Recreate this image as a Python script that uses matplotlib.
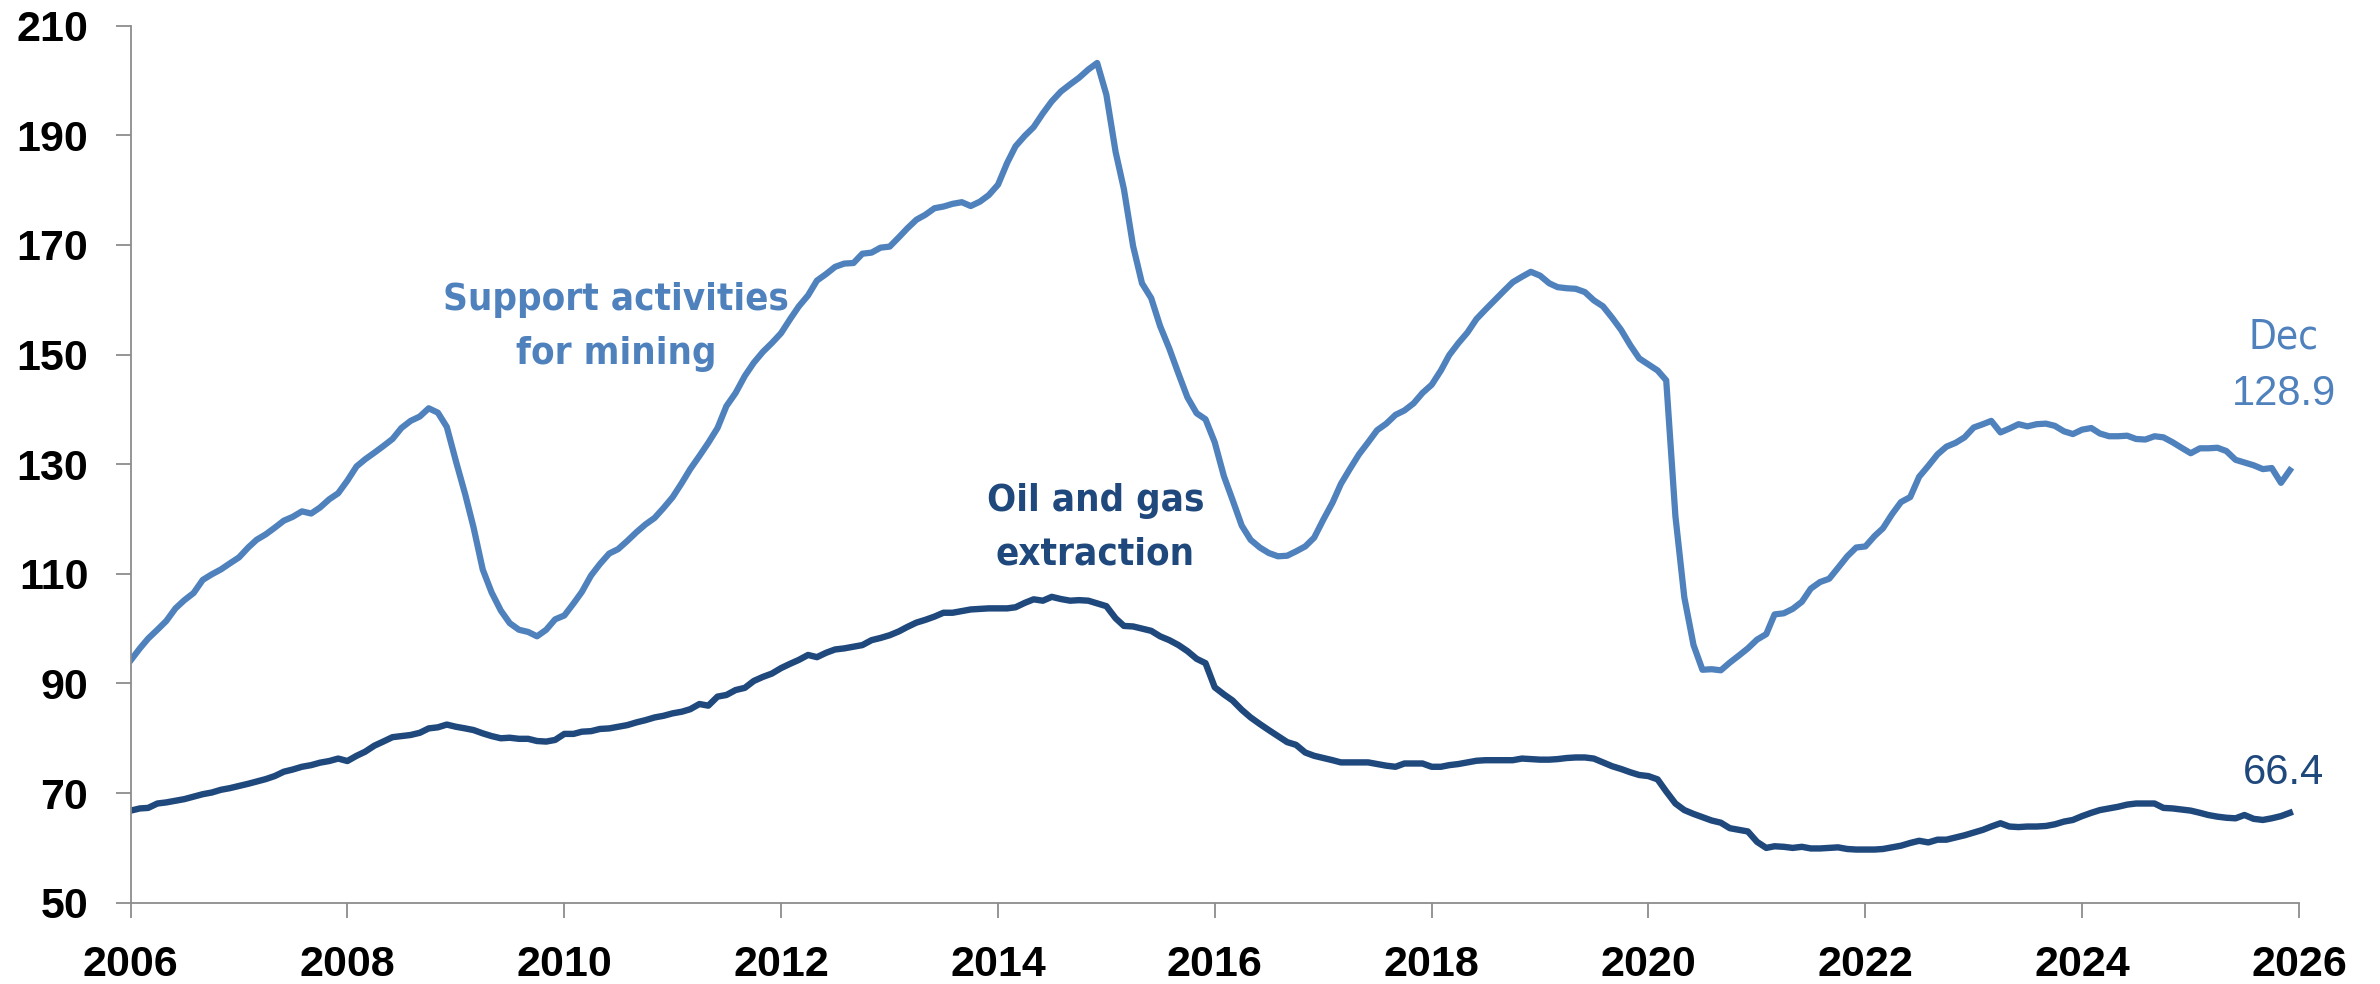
import os
import numpy as np
import pandas as pd
import matplotlib
matplotlib.use('Agg')
import matplotlib.pyplot as plt
import matplotlib.dates as mdates
from matplotlib import font_manager

# Monthly index values, Jan 2006 - Dec 2025 (one row per year)
support_mining = [
    94.2, 96.4, 98.2, 99.8, 101.4, 103.7, 105.2, 106.5, 108.9, 109.9, 110.8, 111.9,
    113.0, 114.8, 116.2, 117.2, 118.4, 119.7, 120.4, 121.4, 121.0, 122.1, 123.6, 124.7,
    127.0, 129.6, 130.9, 132.1, 133.3, 134.6, 136.6, 137.9, 138.7, 140.2, 139.4, 136.8,
    130.5, 124.5, 118.5, 110.8, 106.6, 103.3, 101.0, 99.8, 99.4, 98.6, 99.8, 101.7,
    102.4, 104.6, 106.7, 109.7, 111.8, 113.7, 114.5, 116.0, 117.6, 119.0, 120.2, 122.0,
    124.0, 126.6, 129.1, 131.5, 133.9, 136.6, 140.6, 143.0, 146.1, 148.5, 150.5, 152.1,
    153.9, 156.5, 158.8, 160.8, 163.5, 164.7, 166.0, 166.6, 166.7, 168.4, 168.6, 169.5,
    169.7, 171.4, 173.0, 174.6, 175.5, 176.7, 177.0, 177.5, 177.8, 177.1, 177.9, 179.1,
    181.0, 185.0, 188.0, 189.9, 191.5, 194.0, 196.2, 198.0, 199.3, 200.5, 202.0, 203.2,
    197.4, 187.0, 180.2, 169.8, 163.0, 160.3, 155.2, 151.1, 146.5, 142.2, 139.3, 138.2,
    134.0, 127.8, 123.5, 118.8, 116.2, 114.8, 113.8, 113.2, 113.3, 114.1, 115.0, 116.6,
    119.9, 123.0, 126.4, 129.2, 131.8, 134.0, 136.2, 137.4, 139.0, 139.8, 141.1, 143.0,
    144.5, 147.1, 149.9, 152.1, 154.0, 156.5, 158.2, 159.9, 161.6, 163.2, 164.2, 165.1,
    164.4, 163.0, 162.3, 162.1, 162.0, 161.4, 159.9, 158.8, 156.7, 154.5, 151.7, 149.3,
    148.2, 147.1, 145.3, 120.5, 105.7, 97.0, 92.5, 92.6, 92.4, 93.8, 95.1, 96.4,
    98.0, 99.0, 102.6, 102.8, 103.6, 104.9, 107.3, 108.5, 109.1, 111.1, 113.2, 114.8,
    115.0, 116.9, 118.3, 120.9, 123.1, 124.0, 127.7, 129.7, 131.8, 133.2, 133.9, 134.9,
    136.7, 137.3, 137.9, 135.8, 136.5, 137.3, 136.9, 137.3, 137.4, 137.0, 136.0, 135.5,
    136.3, 136.6, 135.6, 135.1, 135.1, 135.2, 134.6, 134.5, 135.1, 134.9, 134.0, 133.0,
    132.0, 132.9, 132.9, 133.0, 132.4, 130.8, 130.3, 129.8, 129.1, 129.3, 126.6, 128.9,
]

oil_gas = [
    66.8, 67.2, 67.3, 68.1, 68.3, 68.6, 68.9, 69.35, 69.8, 70.1, 70.6, 70.9,
    71.3, 71.7, 72.1, 72.55, 73.1, 73.9, 74.3, 74.8, 75.1, 75.55, 75.85, 76.3,
    75.85, 76.8, 77.55, 78.65, 79.4, 80.2, 80.4, 80.6, 81.0, 81.8, 82.0, 82.5,
    82.1, 81.8, 81.5, 80.9, 80.4, 80.0, 80.1, 79.9, 79.9, 79.5, 79.4, 79.7,
    80.8, 80.8, 81.2, 81.3, 81.7, 81.8, 82.1, 82.4, 82.9, 83.3, 83.8, 84.1,
    84.55, 84.85, 85.3, 86.25, 85.95, 87.6, 87.9, 88.8, 89.2, 90.45, 91.2, 91.8,
    92.8, 93.6, 94.3, 95.2, 94.8, 95.6, 96.2, 96.4, 96.7, 97.0, 97.9, 98.3,
    98.8, 99.5, 100.3, 101.1, 101.6, 102.2, 102.9, 102.9, 103.2, 103.5, 103.6, 103.7,
    103.7, 103.7, 103.9, 104.7, 105.35, 105.1, 105.8, 105.4, 105.1, 105.2, 105.1, 104.6,
    104.1, 101.9, 100.5, 100.4, 100.0, 99.6, 98.6, 97.9, 97.0, 95.9, 94.5, 93.7,
    89.3, 88.0, 86.9, 85.2, 83.8, 82.6, 81.5, 80.4, 79.3, 78.8, 77.4, 76.8,
    76.4, 76.0, 75.6, 75.6, 75.6, 75.6, 75.3, 75.0, 74.8, 75.4, 75.4, 75.4,
    74.8, 74.8, 75.1, 75.3, 75.6, 75.9, 76.0, 76.0, 76.0, 76.0, 76.3, 76.2,
    76.1, 76.1, 76.2, 76.4, 76.5, 76.5, 76.3, 75.6, 74.9, 74.4, 73.8, 73.3,
    73.1, 72.5, 70.3, 68.1, 66.9, 66.2, 65.6, 65.0, 64.6, 63.6, 63.3, 63.0,
    61.1, 60.0, 60.3, 60.2, 60.0, 60.2, 59.9, 59.9, 60.0, 60.1, 59.8, 59.7,
    59.7, 59.7, 59.8, 60.1, 60.4, 60.9, 61.3, 61.0, 61.5, 61.5, 61.9, 62.3,
    62.8, 63.3, 63.9, 64.5, 63.9, 63.8, 63.9, 63.9, 64.0, 64.3, 64.8, 65.1,
    65.8, 66.4, 66.9, 67.2, 67.5, 67.9, 68.1, 68.1, 68.1, 67.3, 67.2, 67.0,
    66.8, 66.4, 66.0, 65.7, 65.5, 65.4, 66.0, 65.3, 65.1, 65.4, 65.8, 66.4,
]

months = pd.date_range('2006-01-01', periods=len(oil_gas), freq='MS')
y_ticks = [50, 70, 90, 110, 130, 150, 170, 190, 210]

light_blue = '#4F81BD'
dark_blue = '#1F487C'
axis_grey = '#8C8C8C'
wide = ['Liberation Sans', 'DejaVu Sans']


def condensed_font(bold: bool, size: float) -> font_manager.FontProperties:
    """
    Looks for an installed narrow/condensed font file, falls back to Roboto

    :param bold: Whether the bold cut is wanted
    :param size: Font size in points
    """
    wanted = (['LiberationSansNarrow-Bold', 'DejaVuSansCondensed-Bold'] if bold
              else ['LiberationSansNarrow-Regular', 'DejaVuSansCondensed.'])
    files = [f.fname for f in font_manager.fontManager.ttflist]
    for key in wanted:
        for fname in files:
            if key in os.path.basename(fname):
                return font_manager.FontProperties(fname=fname, size=size)
    return font_manager.FontProperties(family='Roboto', weight='bold' if bold else 'normal', size=size)


def generate_mining_plot(savefig_path: str = 'out.png') -> None:
    """
    Generates the line plot of the two mining output indexes

    :param savefig_path: The path were to store the plot.
    """
    fig = plt.figure(figsize=(23.8, 9.84), dpi=100)
    ax = fig.add_axes([0.0549, 0.0826, 0.9111, 0.8913])

    # Lines
    ax.plot(months, oil_gas, color=dark_blue, lw=4.6)
    ax.plot(months, support_mining, color=light_blue, lw=4.5)

    # Axes
    ax.set_xlim(pd.Timestamp('2006-01-01'), pd.Timestamp('2026-01-01'))
    ax.set_ylim(50, 210)
    ax.set_yticks(y_ticks)
    ax.xaxis.set_major_locator(mdates.YearLocator(2))
    ax.xaxis.set_major_formatter(mdates.DateFormatter('%Y'))
    for side in ['top', 'right']:
        ax.spines[side].set_visible(False)
    for side in ['left', 'bottom']:
        ax.spines[side].set_color(axis_grey)
        ax.spines[side].set_linewidth(1.3)
    ax.tick_params(axis='both', direction='out', length=10.5, width=1.3, color=axis_grey,
                   pad=20, labelsize=31)
    for lab in ax.get_xticklabels() + ax.get_yticklabels():
        lab.set_family(wide)
        lab.set_fontweight('bold')

    # Series labels
    ax.text(pd.Timestamp('2010-06-25'), 155.0, 'Support activities\nfor mining', color=light_blue,
            fontproperties=condensed_font(True, 27.5), ha='center', va='center', linespacing=1.65)
    ax.text(pd.Timestamp('2014-11-25'), 118.4, 'Oil and gas\nextraction', color=dark_blue,
            fontproperties=condensed_font(True, 27.5), ha='center', va='center', linespacing=1.65)

    # End values
    end = months[-1] - pd.Timedelta(days=20)
    ax.text(end, 153.2, 'Dec', color=light_blue, fontproperties=condensed_font(False, 29),
            ha='center', va='center')
    ax.text(end, 142.8, '{:.1f}'.format(support_mining[-1]), color=light_blue, fontsize=30,
            family=wide, ha='center', va='center')
    ax.text(end, 73.75, '{:.1f}'.format(oil_gas[-1]), color=dark_blue, fontsize=30,
            family=wide, ha='center', va='center')

    if savefig_path:
        plt.savefig(savefig_path, dpi=100)


generate_mining_plot()
